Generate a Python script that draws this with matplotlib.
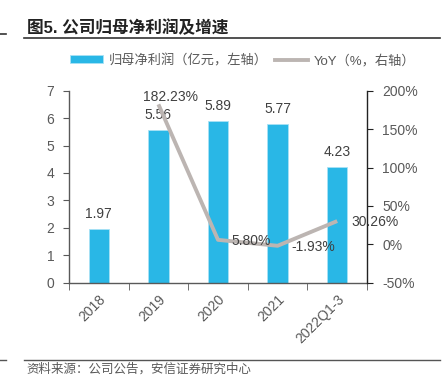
import matplotlib
matplotlib.use("Agg")
import matplotlib.pyplot as plt
from matplotlib.lines import Line2D
from matplotlib.patches import Patch
from matplotlib.ticker import FuncFormatter, FixedLocator
import numpy as np

plt.rcParams['font.family'] = ['Liberation Sans', 'Noto Sans CJK SC', 'DejaVu Sans']

categories = ["2018", "2019", "2020", "2021", "2022Q1-3"]
profit = [1.97, 5.56, 5.89, 5.77, 4.23]
yoy = [None, 182.23, 5.80, -1.93, 30.26]
title = "图5. 公司归母净利润及增速"
source = "资料来源：公司公告，安信证券研究中心"
legend_labels = ["归母净利润（亿元，左轴）", "YoY（%，右轴）"]

W, H = 445, 388
fig = plt.figure(figsize=(W / 100, H / 100), dpi=100)

BAR = "#29B7E6"
LINE = "#BCB5B2"
TXT = "#404040"
TICK = "#595959"

ax = fig.add_axes([69 / W, (H - 282.7) / H, (367 - 69) / W, (282.7 - 90.7) / H])
x = np.arange(len(categories))
ax.bar(x, profit, width=0.34, color=BAR, edgecolor="#A9E2F5", linewidth=0.6, zorder=2)
ax.set_xlim(-0.5, len(categories) - 0.5)
ax.set_ylim(0, 7)
ax.set_yticks(range(0, 8))
ax.set_xticks(x)
ax.set_xticklabels(categories, rotation=45, ha="right", rotation_mode="anchor")
ax.xaxis.set_minor_locator(FixedLocator(np.arange(-0.5, len(categories), 1.0)))
ax.tick_params(axis="x", which="major", length=0, pad=7, labelsize=10, labelcolor=TICK)
ax.tick_params(axis="x", which="minor", length=5, color=TICK, direction="out")
ax.tick_params(axis="y", length=4, color=TICK, labelsize=10, labelcolor=TICK, pad=6.5)
for s in ["top", "right"]:
    ax.spines[s].set_visible(False)
ax.spines["left"].set_color(TICK)
ax.spines["bottom"].set_color(TICK)
ax.spines["left"].set_linewidth(1.0)
ax.spines["bottom"].set_linewidth(1.0)

for xi, v in zip(x, profit):
    ax.annotate(f"{v:.2f}", (xi, v), xytext=(0, 10.8), textcoords="offset points",
                ha="center", va="center", fontsize=10, color=TXT)

ax2 = ax.twinx()
ax2.set_ylim(-50, 200)
ax2.set_yticks(range(-50, 201, 50))
ax2.yaxis.set_major_formatter(FuncFormatter(lambda v, p: f"{int(v)}%"))
ax2.tick_params(axis="y", length=4, color="#222222", labelsize=10, labelcolor=TICK, pad=7)
for s in ["top", "left", "bottom"]:
    ax2.spines[s].set_visible(False)
ax2.spines["right"].set_color("#222222")
ax2.spines["right"].set_linewidth(1.0)

lx = [xi for xi, v in zip(x, yoy) if v is not None]
ly = [v for v in yoy if v is not None]
ax2.plot(lx, ly, color=LINE, linewidth=2.8, solid_capstyle="butt", zorder=3)

for xi, v in zip(lx, ly):
    if v > 100:
        ax2.annotate(f"{v:.2f}%", (xi, v), xytext=(8.5, 5), textcoords="offset points",
                     ha="center", va="center", fontsize=10, color=TXT)
    else:
        ax2.annotate(f"{v:.2f}%", (xi, v), xytext=(10, -1), textcoords="offset points",
                     ha="left", va="center", fontsize=10, color=TXT)

handles = [Patch(facecolor=BAR, edgecolor="#A9E2F5", linewidth=0.6),
           Line2D([0], [0], color=LINE, linewidth=2.8)]
leg = fig.legend(handles, legend_labels, loc="center left",
                 bbox_to_anchor=(70 / W, 1 - 60.5 / H), ncol=2, frameon=False,
                 fontsize=9.5, handlelength=2.5, handleheight=0.55, handletextpad=0.4,
                 columnspacing=0.6, borderpad=0, borderaxespad=0)
for t in leg.get_texts():
    t.set_color(TICK)

fig.text(27 / W, 1 - 28 / H, title, fontsize=12, fontweight="bold", color="#222222",
         ha="left", va="center")
fig.add_artist(Line2D([24 / W, 440 / W], [1 - 37.7 / H] * 2, color="#333333", linewidth=1.2))
fig.add_artist(Line2D([0, 5.5 / W], [1 - 34.3 / H] * 2, color="#333333", linewidth=1.2))
fig.add_artist(Line2D([24 / W, 440 / W], [1 - 360 / H] * 2, color="#555555", linewidth=1.0))
fig.add_artist(Line2D([0, 5.5 / W], [1 - 360 / H] * 2, color="#555555", linewidth=1.0))
fig.text(26 / W, 1 - 369 / H, source, fontsize=9, color="#595959", ha="left", va="center",
         style="italic")

fig.savefig("out.png", dpi=100)
